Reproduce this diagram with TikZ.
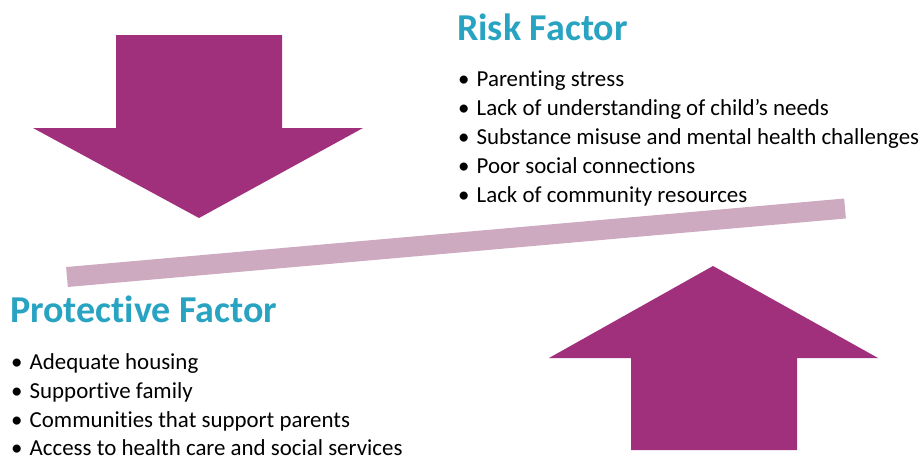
\documentclass[tikz,border=0pt]{standalone}
\usepackage{fontspec}
\setmainfont{Carlito}[Ligatures={NoCommon}]
\definecolor{plum}{RGB}{160,48,124}
\definecolor{beam}{RGB}{205,170,192}
\definecolor{headblue}{RGB}{41,163,194}
\begin{document}
\begin{tikzpicture}[x=1pt,y=-1pt,
  heading/.style={anchor=base west, inner sep=0pt, text=headblue,
                  font=\fontsize{38}{42}\selectfont\bfseries},
  item/.style={anchor=base west, inner sep=0pt,
               font=\fontsize{22.9}{27}\selectfont},
  bigarrow/.style={fill=plum}]
\useasboundingbox (0,0) rectangle (922,458);

% downward arrow (risk pressing down)
\fill[bigarrow] (116,35) -- (282,35) -- (282,128) -- (363,128) -- (199,218)
  -- (33,128) -- (116,128) -- cycle;
% upward arrow (protection pushing up)
\fill[bigarrow] (631,450) -- (797,450) -- (797,358) -- (878,358) -- (713,266)
  -- (549,358) -- (631,358) -- cycle;
% tilted balance beam
\coordinate (beamL) at (67,277);
\coordinate (beamR) at (845,208.5);
\draw[beam, line width=20] (beamL) -- (beamR);

% risk factors
\node[heading] (risk) at (457,40.7) {Risk Factor};
\node[item] (r1) at (458,86)  {\makebox[18.5pt][l]{•}Parenting stress};
\node[item] (r2) at (458,115.2) {\makebox[18.5pt][l]{•}Lack of understanding of child’s needs};
\node[item] (r3) at (458,144.4) {\makebox[18.5pt][l]{•}Substance misuse and mental health challenges};
\node[item] (r4) at (458,173.6) {\makebox[18.5pt][l]{•}Poor social connections};
\node[item] (r5) at (458,202.8) {\makebox[18.5pt][l]{•}Lack of community resources};

% protective factors
\node[heading] (prot) at (10,322.7) {Protective Factor};
\node[item] (p1) at (11,369)   {\makebox[18.5pt][l]{•}Adequate housing};
\node[item] (p2) at (11,398)   {\makebox[18.5pt][l]{•}Supportive family};
\node[item] (p3) at (11,427.2) {\makebox[18.5pt][l]{•}Communities that support parents};
\node[item] (p4) at (11,455.5) {\makebox[18.5pt][l]{•}Access to health care and social services};
\end{tikzpicture}
\end{document}
